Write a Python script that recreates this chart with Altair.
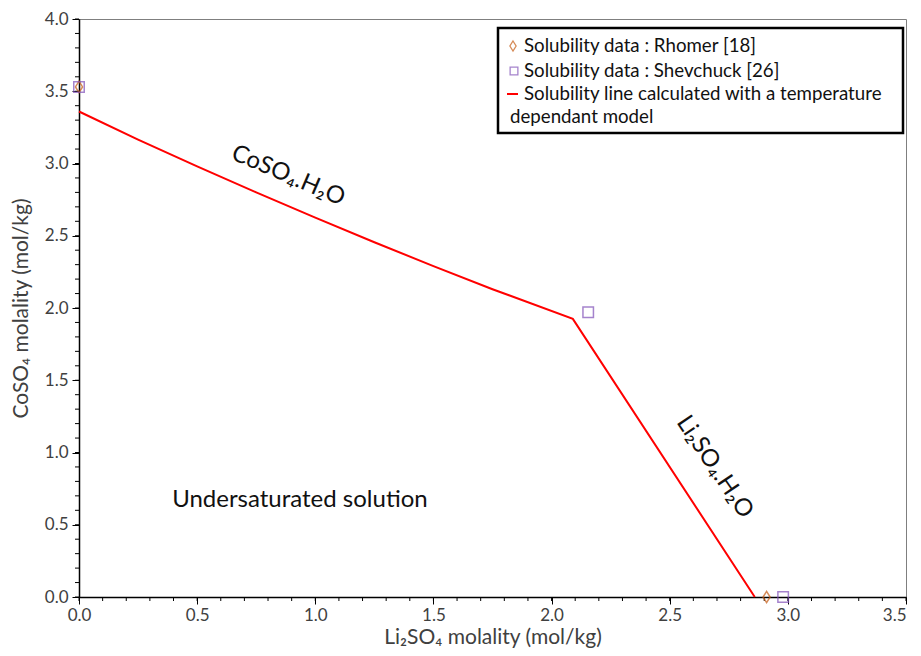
import altair as alt
import pandas as pd

# ---- data ----
line_x = [0.0, 0.25, 0.50, 0.75, 1.00, 1.25, 1.50, 1.75, 2.09, 2.86]
line_y = [3.36, 3.165, 2.98, 2.80, 2.625, 2.455, 2.29, 2.13, 1.925, 0.0]

rhomer_x = [0.0, 2.91]
rhomer_y = [3.53, 0.0]

shev_x = [0.0, 2.155, 2.98]
shev_y = [3.53, 1.97, 0.0]

x_major = [0.0, 0.5, 1.0, 1.5, 2.0, 2.5, 3.0, 3.5]
y_major = [0.0, 0.5, 1.0, 1.5, 2.0, 2.5, 3.0, 3.5, 4.0]
x_minor = [round(i * 0.1, 1) for i in range(36)]
y_minor = [round(i * 0.1, 1) for i in range(41)]

ann_text = ["CoSO₄.H₂O", "Li₂SO₄.H₂O", "Undersaturated solution"]
ann_x = [0.885, 2.69, 0.935]
ann_y = [2.915, 0.90, 0.67]
ann_angle = [23, 56, 0]

legend_labels = [
    "Solubility data : Rhomer [18]",
    "Solubility data : Shevchuck [26]",
    "Solubility line calculated with a temperature",
    "dependant model",
]

FONT = "Lato"
RED = "#FF0000"
ORANGE = "#C55A11"
PURPLE = "#8050B8"
DIAMOND = "M0,-1L0.62,0L0,1L-0.62,0Z"

line_df = pd.DataFrame({"x": line_x, "y": line_y})
rh_df = pd.DataFrame({"x": rhomer_x, "y": rhomer_y})
sh_df = pd.DataFrame({"x": shev_x, "y": shev_y})
ann_df = pd.DataFrame({"x": ann_x, "y": ann_y, "t": ann_text, "a": ann_angle})
xm_df = pd.DataFrame({"x": x_minor})
ym_df = pd.DataFrame({"y": y_minor})
one = pd.DataFrame({"k": [0]})

W, H = 827, 578

xs = alt.Scale(domain=[0, 3.5], nice=False, zero=False)
ys = alt.Scale(domain=[0, 4.0], nice=False, zero=False)

x_axis = alt.Axis(values=x_major, format=".1f", title="Li₂SO₄ molality (mol/kg)",
                  grid=False, ticks=True, tickSize=7, tickWidth=1, tickColor="#000",
                  domainColor="#000", domainWidth=1.5, labelFlush=False,
                  labelAlign={"condition": {"test": "datum.value >= 3.5", "value": "right"},
                              "value": "center"},
                  labelFont=FONT, labelFontSize=17, labelColor="#404040",
                  titleFont=FONT, titleFontSize=21, titleFontWeight="normal",
                  titleColor="#404040", labelPadding=3, titlePadding=3)
y_axis = alt.Axis(values=y_major, format=".1f", title="CoSO₄ molality (mol/kg)",
                  grid=False, ticks=True, tickSize=7, tickWidth=1, tickColor="#000",
                  domainColor="#000", domainWidth=1.5, labelFlush=False,
                  labelFont=FONT, labelFontSize=17, labelColor="#404040",
                  titleFont=FONT, titleFontSize=21, titleFontWeight="normal",
                  titleColor="#404040", labelPadding=4, titlePadding=13)

line = alt.Chart(line_df).mark_line(color=RED, strokeWidth=2).encode(
    x=alt.X("x:Q", scale=xs, axis=x_axis),
    y=alt.Y("y:Q", scale=ys, axis=y_axis),
)

# minor ticks (outside, every 0.1)
xminor = alt.Chart(xm_df).mark_rule(color="#000", strokeWidth=1, clip=False).encode(
    x=alt.X("x:Q", scale=xs), y=alt.value(H), y2=alt.value(H + 4))
yminor = alt.Chart(ym_df).mark_rule(color="#000", strokeWidth=1, clip=False).encode(
    y=alt.Y("y:Q", scale=ys), x=alt.value(-4), x2=alt.value(0))

rh = alt.Chart(rh_df).mark_point(shape=DIAMOND, size=130, filled=False,
                                 color=ORANGE, strokeWidth=1.5, clip=False).encode(
    x=alt.X("x:Q", scale=xs), y=alt.Y("y:Q", scale=ys))

sh = alt.Chart(sh_df).mark_point(shape="square", size=110, filled=False,
                                 color=PURPLE, strokeWidth=1.5, clip=False).encode(
    x=alt.X("x:Q", scale=xs), y=alt.Y("y:Q", scale=ys))

ann = alt.Chart(ann_df).mark_text(font=FONT, fontSize=24, color="#111",
                                  align="center", baseline="middle").encode(
    x=alt.X("x:Q", scale=xs), y=alt.Y("y:Q", scale=ys),
    text="t:N", angle=alt.Angle("a:Q", scale=None))

# ---- legend box ----
leg_box = alt.Chart(one).mark_rect(fill="white", stroke="black", strokeWidth=2.5).encode(
    x=alt.value(419), x2=alt.value(824), y=alt.value(9), y2=alt.value(114))

leg_d = alt.Chart(one).mark_point(shape=DIAMOND, size=100, filled=False, color=ORANGE,
                                  strokeWidth=1.3).encode(x=alt.value(434), y=alt.value(27))
leg_s = alt.Chart(one).mark_point(shape="square", size=60, filled=False, color=PURPLE,
                                  strokeWidth=1.3).encode(x=alt.value(435), y=alt.value(52))
leg_l = alt.Chart(one).mark_rule(color=RED, strokeWidth=2).encode(
    x=alt.value(428), x2=alt.value(439), y=alt.value(75))

leg_texts = []
leg_pos = [(445, 27), (445, 52), (445, 75), (431, 98)]
for lab, (px, py) in zip(legend_labels, leg_pos):
    leg_texts.append(alt.Chart(one).mark_text(font=FONT, fontSize=18.7, color="#111",
                                              align="left", baseline="middle").encode(
        x=alt.value(px), y=alt.value(py), text=alt.value(lab)))

chart = alt.layer(line, xminor, yminor, rh, sh, ann, leg_box, leg_d, leg_s, leg_l,
                  *leg_texts).properties(
    width=W, height=H, autosize="none",
    padding={"left": 71, "top": 11, "right": 7, "bottom": 51},
).configure_view(stroke="#7f7f7f", strokeWidth=1)

chart.save("out.html", embed_options={"renderer": "svg", "actions": False})
